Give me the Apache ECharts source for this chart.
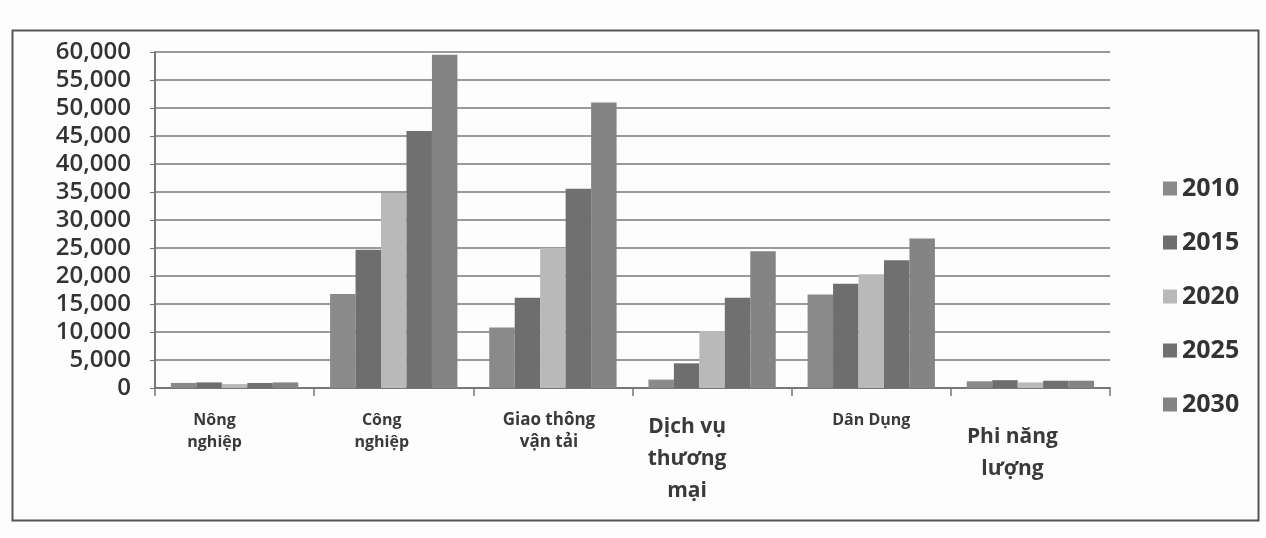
<!DOCTYPE html>
<html>
<head>
<meta charset="utf-8">
<script src="https://cdn.jsdelivr.net/npm/echarts@6/dist/echarts.min.js"></script>
<style>
html,body{margin:0;padding:0;background:#fdfdfd;}
#c{width:1266px;height:538px;}
</style>
</head>
<body>
<div id="c"></div>
<script>
const categories = ['Nông\nnghiệp', 'Công\nnghiệp', 'Giao thông\nvận tải', 'Dịch vụ\nthương\nmại', 'Dân Dụng', 'Phi năng\nlượng'];
const categoryFontSizes = [16, 16, 17, 21, 16, 21];
const seriesNames = ['2010', '2015', '2020', '2025', '2030'];
const v2010 = [900, 16800, 10800, 1500, 16700, 1200];
const v2015 = [1000, 24700, 16100, 4400, 18600, 1400];
const v2020 = [700, 34800, 25000, 10200, 20300, 1000];
const v2025 = [900, 45900, 35600, 16100, 22800, 1300];
const v2030 = [1000, 59500, 51000, 24400, 26700, 1300];
const yTicks = [0, 5000, 10000, 15000, 20000, 25000, 30000, 35000, 40000, 45000, 50000, 55000, 60000];
const colors = ['#8a8a8a', '#6e6e6e', '#b9b9b9', '#707070', '#848484'];

const values = [v2010, v2015, v2020, v2025, v2030];
const labelShift = [40, 24, 8, 50, 0, 36];
const labelDrop = [0, 0, 0, 2, 0, 12];
const chart = echarts.init(document.getElementById('c'));
const fmt = n => n.toString().replace(/\B(?=(\d{3})+(?!\d))/g, ',');
chart.setOption({
  backgroundColor: '#fdfdfd',
  animation: false,
  color: colors,
  grid: {left: 155, right: 156, top: 52, bottom: 150, containLabel: false},
  legend: {
    orient: 'vertical', left: 1158, top: 171,
    icon: 'rect', itemWidth: 14, itemHeight: 14, itemGap: 29, itemTextGap: 4,
    textStyle: {fontFamily: 'Open Sans', fontWeight: 'bold', fontSize: 25, color: '#333'},
    data: seriesNames
  },
  xAxis: {
    type: 'category',
    data: categories.map((c, i) => ({value: c, textStyle: {
      fontSize: categoryFontSizes[i],
      lineHeight: categoryFontSizes[i] > 18 ? 32 : 22,
      padding: [labelDrop[i], labelShift[i], 0, 0]
    }})),
    axisLine: {lineStyle: {color: '#777', width: 2}},
    axisTick: {show: true, length: 8, lineStyle: {color: '#777', width: 1.5}},
    axisLabel: {interval: 0, margin: 21, fontFamily: 'Open Sans', fontWeight: 'bold', color: '#3a3a3a'}
  },
  yAxis: {
    type: 'value', min: 0, max: 60000, interval: 5000,
    axisLine: {show: true, lineStyle: {color: '#777', width: 2}},
    axisTick: {show: true, length: 5, lineStyle: {color: '#777'}},
    splitLine: {lineStyle: {color: '#9a9a9a', width: 2}},
    axisLabel: {margin: 24, fontFamily: 'Open Sans', fontWeight: 600, fontSize: 24, color: '#333',
      formatter: v => yTicks.indexOf(v) >= 0 ? fmt(v) : ''}
  },
  series: seriesNames.map((n, i) => ({
    name: n, type: 'bar', data: values[i],
    barGap: '0%', barCategoryGap: '20%',
    itemStyle: {color: colors[i]}
  })),
  graphic: [{
    type: 'rect', left: 10, top: 28, z: -1,
    shape: {width: 1246, height: 490},
    style: {fill: 'none', stroke: '#555', lineWidth: 2}
  }]
});
</script>
</body>
</html>
